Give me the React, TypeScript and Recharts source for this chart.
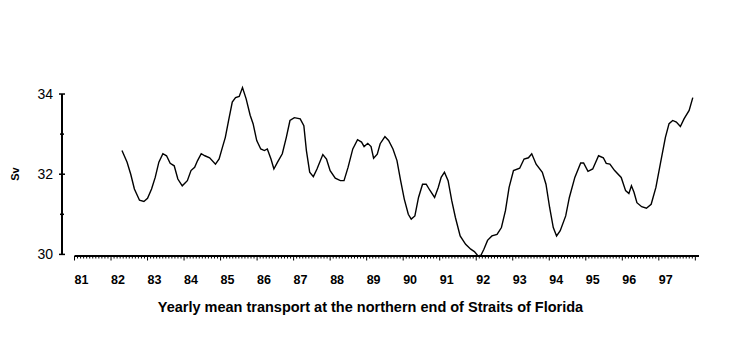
import { LineChart, Line, XAxis, YAxis, Label } from 'recharts';

// decimal year of each reading
const time = [
  1982.3, 1982.44, 1982.54, 1982.64, 1982.78, 1982.9, 1983.0, 1983.11, 1983.21, 1983.31,
  1983.42, 1983.52, 1983.62, 1983.73, 1983.83, 1983.95, 1984.09, 1984.19, 1984.29, 1984.37,
  1984.47, 1984.57, 1984.7, 1984.86, 1984.96, 1985.05, 1985.13, 1985.22, 1985.32, 1985.41,
  1985.51, 1985.6, 1985.7, 1985.81, 1985.89, 1985.99, 1986.1, 1986.2, 1986.28, 1986.38,
  1986.46, 1986.56, 1986.69, 1986.8, 1986.9, 1987.02, 1987.18, 1987.28, 1987.35, 1987.44,
  1987.54, 1987.64, 1987.8, 1987.9, 1988.0, 1988.14, 1988.28, 1988.38, 1988.49, 1988.62,
  1988.75, 1988.86, 1988.93, 1989.03, 1989.12, 1989.19, 1989.29, 1989.37, 1989.5, 1989.6,
  1989.72, 1989.83, 1989.93, 1990.03, 1990.14, 1990.22, 1990.32, 1990.42, 1990.53, 1990.63,
  1990.73, 1990.86, 1990.96, 1991.04, 1991.13, 1991.23, 1991.33, 1991.43, 1991.56, 1991.71,
  1991.85, 1991.95, 1992.05, 1992.13, 1992.21, 1992.31, 1992.43, 1992.57, 1992.69, 1992.8,
  1992.9, 1993.02, 1993.19, 1993.31, 1993.43, 1993.52, 1993.64, 1993.81, 1993.91, 1994.01,
  1994.11, 1994.2, 1994.3, 1994.45, 1994.55, 1994.7, 1994.86, 1994.94, 1995.06, 1995.19,
  1995.35, 1995.48, 1995.56, 1995.66, 1995.79, 1995.97, 1996.09, 1996.18, 1996.25, 1996.32,
  1996.4, 1996.53, 1996.66, 1996.79, 1996.92, 1997.04, 1997.18, 1997.28, 1997.38, 1997.48,
  1997.59, 1997.69, 1997.83, 1997.93,
];

// transport, Sv
const transport = [
  32.59, 32.3, 32.0, 31.63, 31.35, 31.32, 31.4, 31.63, 31.92, 32.3,
  32.51, 32.46, 32.27, 32.21, 31.88, 31.71, 31.84, 32.09, 32.17, 32.34,
  32.51, 32.46, 32.41, 32.25, 32.38, 32.67, 32.92, 33.34, 33.8, 33.91,
  33.94, 34.16, 33.88, 33.47, 33.26, 32.84, 32.63, 32.59, 32.63, 32.38,
  32.13, 32.3, 32.51, 32.92, 33.34, 33.41, 33.38, 33.21, 32.59, 32.05,
  31.94, 32.13, 32.49, 32.38, 32.09, 31.9, 31.84, 31.84, 32.17, 32.63,
  32.86, 32.8, 32.69, 32.77, 32.69, 32.4, 32.5, 32.76, 32.94, 32.84,
  32.63, 32.34, 31.84, 31.38, 31.0, 30.88, 30.96, 31.42, 31.75, 31.75,
  31.6, 31.42, 31.67, 31.92, 32.05, 31.84, 31.34, 30.92, 30.46, 30.25,
  30.13, 30.07, 29.96, 29.98, 30.13, 30.35, 30.46, 30.5, 30.67, 31.09,
  31.67, 32.09, 32.15, 32.38, 32.41, 32.51, 32.25, 32.05, 31.75, 31.17,
  30.67, 30.46, 30.59, 30.96, 31.42, 31.92, 32.28, 32.28, 32.07, 32.13,
  32.46, 32.41, 32.27, 32.25, 32.09, 31.92, 31.59, 31.52, 31.71, 31.55,
  31.29, 31.19, 31.15, 31.25, 31.67, 32.25, 32.92, 33.26, 33.34, 33.3,
  33.19, 33.38, 33.59, 33.91,
];

const yearTicks = [1981, 1982, 1983, 1984, 1985, 1986, 1987, 1988, 1989, 1990, 1991, 1992, 1993, 1994, 1995, 1996, 1997, 1998];
const yearLabels = ['81', '82', '83', '84', '85', '86', '87', '88', '89', '90', '91', '92', '93', '94', '95', '96', '97'];
const svTicks = [30, 31, 32, 33, 34];
const svLabels = ['30', '', '32', '', '34'];

const monthTicks = yearTicks.flatMap((y, i) =>
  i === yearTicks.length - 1 ? [y] : Array.from({ length: 12 }, (_, m) => y + m / 12)
);

const series = time.map((t, i) => ({ t, v: transport[i] }));

const font = "'Liberation Sans', Arial, Helvetica, sans-serif";

function MonthTick({ x, y, payload }: any) {
  const v = payload.value as number;
  const yr = Math.round(v);
  const major = Math.abs(v - yr) < 1e-6;
  const label = major ? yearLabels[yr - 1981] : undefined;
  return (
    <g>
      <line x1={x} x2={x} y1={y} y2={y + (major ? 4.5 : 2.5)} stroke="#000" strokeWidth={1} />
      {label && (
        <text x={x} y={y + 27.5} textAnchor="start" fontFamily={font} fontWeight="bold" fontSize={12.5} fill="#000">
          {label}
        </text>
      )}
    </g>
  );
}

function SvTick({ x, y, payload, index }: any) {
  const label = svLabels[index];
  const half = label ? 3 : 2;
  return (
    <g>
      <line x1={x - half} x2={x + half} y1={y} y2={y} stroke="#000" strokeWidth={1.5} />
      {label && (
        <text x={x - 9} y={y} dy="0.36em" textAnchor="end" fontFamily={font} fontSize={14} fill="#000">
          {label}
        </text>
      )}
    </g>
  );
}

export default function App() {
  return (
    <div style={{ position: 'absolute', left: 0, top: 0, background: '#fff' }}>
      <LineChart width={729} height={358} data={series} margin={{ top: 86, right: 30, bottom: 0, left: 0 }}>
        <XAxis
          dataKey="t"
          type="number"
          domain={[1981, 1998.1]}
          ticks={monthTicks}
          interval={0}
          padding={{ left: 12.5, right: 0 }}
          height={102}
          tickSize={0}
          tickMargin={0}
          tickLine={false}
          tick={<MonthTick />}
          axisLine={{ stroke: '#000', strokeWidth: 2, strokeDasharray: '0 12.5 700' }}
        >
          <Label
            content={({ viewBox }: any) => (
              <text
                x={viewBox.x + viewBox.width / 2 - 10}
                y={viewBox.y + 56}
                textAnchor="middle"
                fontFamily={font}
                fontWeight="bold"
                fontSize={14.5}
                fill="#000"
              >
                Yearly mean transport at the northern end of Straits of Florida
              </text>
            )}
          />
        </XAxis>
        <YAxis
          type="number"
          domain={[29.96, 34.2]}
          ticks={svTicks}
          interval={0}
          width={62}
          tickSize={0}
          tickMargin={0}
          tickLine={false}
          tick={<SvTick />}
          axisLine={{ stroke: '#000', strokeWidth: 2, strokeDasharray: '0 8 160.4 20' }}
        >
          <Label
            content={({ viewBox }: any) => {
              const cx = 15.5;
              const cy = viewBox.y + 88;
              return (
                <text
                  x={cx}
                  y={cy}
                  transform={`rotate(-90 ${cx} ${cy})`}
                  textAnchor="middle"
                  dy="0.36em"
                  fontFamily={font}
                  fontWeight="bold"
                  fontSize={11}
                  fill="#000"
                >
                  Sv
                </text>
              );
            }}
          />
        </YAxis>
        <Line dataKey="v" type="linear" stroke="#000" strokeWidth={1.4} dot={false} isAnimationActive={false} />
      </LineChart>
    </div>
  );
}
